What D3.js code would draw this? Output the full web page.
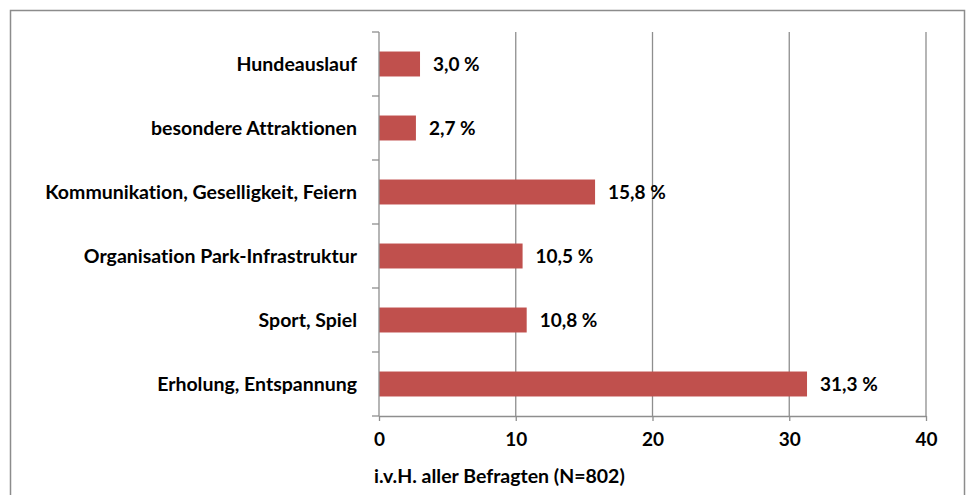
<!DOCTYPE html>
<html><head><meta charset="utf-8">
<script src="https://cdn.jsdelivr.net/npm/d3@7"></script>
<style>body{margin:0;background:#fff}svg{display:block}text{font-variant-ligatures:none}</style>
</head><body>
<svg id="c" width="970" height="495"></svg>
<script>
const categories = ["Hundeauslauf","besondere Attraktionen","Kommunikation, Geselligkeit, Feiern","Organisation Park-Infrastruktur","Sport, Spiel","Erholung, Entspannung"];
const values = [3.0, 2.7, 15.8, 10.5, 10.8, 31.3];
const valueLabels = ["3,0 %","2,7 %","15,8 %","10,5 %","10,8 %","31,3 %"];
const xTicks = [0,10,20,30,40];
const axisTitle = "i.v.H. aller Befragten (N=802)";

const svg = d3.select("#c");
const font = "Lato, 'Open Sans', sans-serif";
const grey = "#8e8e8e";
const m = {left:379, right:926, top:32, bottom:416};

svg.append("rect").attr("x",10.5).attr("y",10.5).attr("width",954).attr("height",490)
  .attr("fill","none").attr("stroke","#8c8c8c").attr("stroke-width",1.5);

const x = d3.scaleLinear().domain([0,40]).range([m.left,m.right]);
const y = d3.scaleBand().domain(categories).range([m.top,m.bottom]).paddingInner(0.61).paddingOuter(0.305);
const yb = d3.scaleBand().domain(categories).range([m.top,m.bottom]);

// gridlines
svg.append("g").selectAll("line").data(xTicks.filter(d=>d>0)).join("line")
  .attr("x1",d=>x(d)).attr("x2",d=>x(d)).attr("y1",m.top).attr("y2",m.bottom)
  .attr("stroke",grey).attr("stroke-width",1.3);

// bars
svg.append("g").selectAll("rect").data(values).join("rect")
  .attr("x",x(0)).attr("y",(d,i)=>y(categories[i]))
  .attr("width",d=>x(d)-x(0)).attr("height",y.bandwidth())
  .attr("fill","#c0504d");

// x axis
const xa = svg.append("g").attr("transform",`translate(0,${m.bottom})`)
  .call(d3.axisBottom(x).tickValues(xTicks).tickSize(5).tickPadding(12).tickSizeOuter(0));
xa.select(".domain").attr("stroke",grey).attr("stroke-width",1.3);
xa.selectAll(".tick line").attr("stroke",grey).attr("stroke-width",1.3);
xa.selectAll(".tick text").attr("font-family",font).attr("font-weight","bold").attr("font-size",19).attr("fill","#000");

// y axis with boundary ticks
const yaxisG = svg.append("g");
yaxisG.append("line").attr("x1",m.left).attr("x2",m.left).attr("y1",m.top).attr("y2",m.bottom).attr("stroke",grey).attr("stroke-width",1.3);
const bounds = categories.map(c=>yb(c)).concat([m.bottom]);
yaxisG.selectAll("line.t").data(bounds).join("line").attr("class","t")
  .attr("x1",m.left-7).attr("x2",m.left).attr("y1",d=>d).attr("y2",d=>d).attr("stroke",grey).attr("stroke-width",1.3);

// category labels
svg.append("g").selectAll("text").data(categories).join("text")
  .attr("x",357).attr("y",d=>y(d)+y.bandwidth()/2).attr("dy","0.35em")
  .attr("text-anchor","end").attr("font-family",font).attr("font-weight","bold").attr("font-size",19.5)
  .attr("fill","#000").text(d=>d);

// value labels
svg.append("g").selectAll("text").data(values).join("text")
  .attr("x",d=>x(d)+13).attr("y",(d,i)=>y(categories[i])+y.bandwidth()/2).attr("dy","0.35em")
  .attr("font-family",font).attr("font-weight","bold").attr("font-size",19)
  .attr("fill","#000").text((d,i)=>valueLabels[i]);

// axis title
svg.append("text").attr("x",374).attr("y",476).attr("dy","0.35em")
  .attr("font-family",font).attr("font-weight","bold").attr("font-size",19.5).attr("fill","#000").text(axisTitle);
</script>
</body></html>
